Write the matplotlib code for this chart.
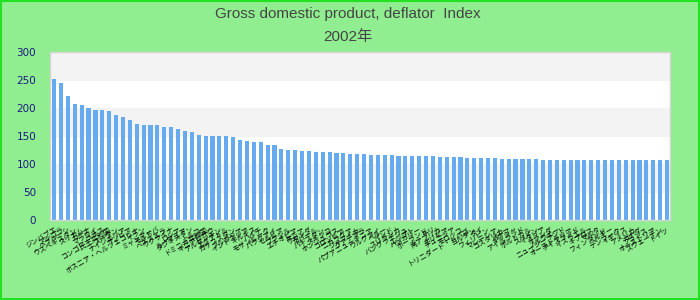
import matplotlib
matplotlib.use('Agg')
import matplotlib.pyplot as plt
from matplotlib.patches import Rectangle


title_main = 'Gross domestic product, deflator  Index'
title_year = '2002年'

# Countries, sorted by deflator index (labels only, read as far as possible).
countries = [
    'ジンバブエ', 'アンゴラ', 'ベラルーシ', 'ウズベキスタン', 'スリナム',
    'ガーナ', 'マラウイ', 'ラオス', 'コンゴ民主共和国', 'スーダン',
    'ナイジェリア', 'ザンビア', 'ボスニア・ヘルツェゴビナ', 'イラン', 'ミャンマー',
    'モルドバ', 'ベネズエラ', 'ウクライナ', 'ロシア', 'ルーマニア',
    'タジキスタン', 'トルコ', 'ドミニカ共和国', 'ギニアビサウ', 'アルゼンチン',
    'エクアドル', 'カザフスタン', 'ブルガリア', 'インドネシア', 'キルギス',
    'ハイチ', 'モザンビーク', 'パラグアイ', 'セルビア', 'ブラジル',
    'エチオピア', 'ケニア', 'ウガンダ', 'ネパール', 'パキスタン',
    'メキシコ', 'ホンジュラス', 'コロンビア', 'ニカラグア', 'ジャマイカ',
    'グアテマラ', 'パプアニューギニア', 'ウルグアイ', 'ペルー', 'インド',
    'スリランカ', 'バングラデシュ', 'エジプト', 'ハンガリー', 'ポーランド',
    'チリ', '南アフリカ', 'ボリビア', 'チュニジア', 'モロッコ',
    'トリニダード・トバゴ', 'ヨルダン', 'タイ', 'フィリピン', 'マレーシア',
    'コスタリカ', 'パナマ', 'ギリシャ', 'アイルランド', 'ポルトガル',
    'スペイン', 'イタリア', 'オランダ', 'ノルウェー', 'ニュージーランド',
    'オーストラリア', 'アイスランド', 'イスラエル', 'キプロス', 'マルタ',
    'フィンランド', 'ベルギー', 'デンマーク', 'イギリス', 'アメリカ',
    'カナダ', 'フランス', 'オーストリア', 'スウェーデン', 'ドイツ',
]

index_values = [
    251, 244, 221, 207, 205, 200, 196, 196, 194, 187,
    184, 178, 171, 169, 169, 169, 166, 166, 162, 159,
    157, 152, 150, 150, 150, 150, 148, 143, 141, 139,
    139, 134, 134, 127, 125, 125, 123, 123, 121, 121,
    121, 119, 119, 118, 118, 118, 116, 116, 116, 116,
    114, 114, 114, 114, 114, 114, 112, 112, 112, 112,
    110, 110, 110, 110, 110, 109, 109, 109, 109, 109,
    109, 107, 107, 107, 107, 107, 107, 107, 107, 107,
    107, 106, 106, 106, 106, 106, 106, 106, 106, 106,
]

y_ticks = [0, 50, 100, 150, 200, 250, 300]

bg_green = '#90ee90'
bar_blue = '#66aaf0'

fig = plt.figure(figsize=(7, 3), dpi=100, facecolor=bg_green)
ax = fig.add_axes([0.0714, 0.267, 0.886, 0.561])
ax.set_facecolor('white')

# alternating horizontal bands
for i in range(len(y_ticks) - 1):
    if i % 2 == 1:
        ax.axhspan(y_ticks[i], y_ticks[i + 1], color='#f3f3f3', zorder=0)

xs = list(range(len(index_values)))
ax.bar(xs, index_values, width=0.6, color=bar_blue, zorder=2)

ax.set_xlim(-0.6, len(index_values) - 0.55)
ax.set_ylim(0, 300)
ax.set_yticks(y_ticks)
ax.tick_params(axis='y', length=0, pad=10, labelsize=7.5, labelcolor='#1a1a80')
ax.set_xticks(xs)
ax.set_xticklabels(countries, rotation=30, ha='right', rotation_mode='anchor',
                   fontsize=5, family=['Noto Sans CJK JP', 'DejaVu Sans'])
ax.tick_params(axis='x', length=0, pad=4)

for s in ax.spines.values():
    s.set_color('#d4d4d4')
    s.set_linewidth(1)

title_font = ['Liberation Sans', 'Noto Sans CJK JP']
fig.text(0.497, 0.953, title_main, ha='center', va='center', fontsize=11,
         color='#444444', family=title_font)
fig.text(0.497, 0.875, title_year, ha='center', va='center', fontsize=11,
         color='#444444', family=title_font)

fig.patches.append(Rectangle((0.001, 0.002), 0.997, 0.995, transform=fig.transFigure,
                             fill=False, edgecolor='#22e022', linewidth=1.5))

fig.savefig('out.png', dpi=100, facecolor=bg_green)
